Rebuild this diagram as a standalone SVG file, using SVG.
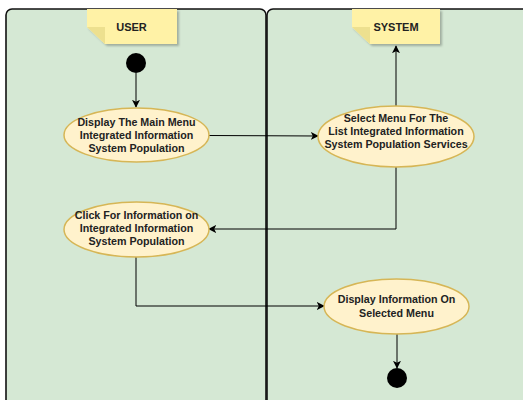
<svg xmlns="http://www.w3.org/2000/svg" width="523" height="400" viewBox="0 0 523 400">
<defs>
<marker id="arr" viewBox="0 0 10 10" refX="9" refY="5" markerWidth="8" markerHeight="8" markerUnits="userSpaceOnUse" orient="auto">
<path d="M0,0 L10,5 L0,10 L2.5,5 z" fill="#000"/>
</marker>
<filter id="sh" x="-10%" y="-10%" width="130%" height="140%">
<feDropShadow dx="2" dy="2" stdDeviation="0.8" flood-color="#000" flood-opacity="0.25"/>
</filter>
</defs>
<style>
.lane{fill:#d5e8d4;stroke:#111;stroke-width:1.6}
.act{fill:#fff2cc;stroke:#d6b656;stroke-width:1.5}
.note{fill:#fff2a6}
.fold{fill:#ede08f}
.t{font-family:"Liberation Sans",Arial,sans-serif;font-weight:bold;font-size:10.7px;fill:#222;text-anchor:middle;dominant-baseline:central}
.nt{font-family:"Liberation Sans",Arial,sans-serif;font-weight:bold;font-size:11px;fill:#222;text-anchor:middle;dominant-baseline:central}
.c{fill:none;stroke:#000;stroke-width:1}
</style>
<rect width="523" height="400" fill="#fff"/>
<g id="lane-user">
<rect class="lane" x="6" y="9" width="260" height="420" rx="6"/>
</g>
<g id="lane-system">
<rect class="lane" x="267" y="9" width="280" height="420" rx="6"/>
</g>
<g id="note-user">
<path class="note" filter="url(#sh)" d="M87,9 H177 V44 H105 L87,27 Z"/>
<path class="fold" d="M87,27 L105,27 L105,44 Z"/>
<text class="nt" x="131.5" y="27">USER</text>
</g>
<g id="note-system">
<path class="note" filter="url(#sh)" d="M352,9 H440 V44 H370 L352,27 Z"/>
<path class="fold" d="M352,27 L370,27 L370,44 Z"/>
<text class="nt" x="396" y="27">SYSTEM</text>
</g>
<g id="connectors">
<path class="c" d="M136,73 V107" marker-end="url(#arr)"/>
<path class="c" d="M209,135.5 L318,136" marker-end="url(#arr)"/>
<path class="c" d="M396,106 V46" marker-end="url(#arr)"/>
<path class="c" d="M396,167 V229 H209" marker-end="url(#arr)"/>
<path class="c" d="M136,257 V306 H324" marker-end="url(#arr)"/>
<path class="c" d="M397,334 V368" marker-end="url(#arr)"/>
</g>
<g id="start">
<circle cx="136" cy="63" r="10" fill="#000"/>
</g>
<g id="act-display-main">
<ellipse class="act" cx="136.5" cy="135" rx="72.5" ry="27"/>
<text class="t" x="136.5" y="122">Display The Main Menu</text>
<text class="t" x="136.5" y="135">Integrated Information</text>
<text class="t" x="136.5" y="148">System Population</text>
</g>
<g id="act-select-menu">
<ellipse class="act" cx="396" cy="136.5" rx="78" ry="30.5"/>
<text class="t" x="396" y="118">Select Menu For The</text>
<text class="t" x="396" y="131">List Integrated Information</text>
<text class="t" x="396" y="144">System Population  Services</text>
</g>
<g id="act-click-info">
<ellipse class="act" cx="136.5" cy="229.5" rx="72.5" ry="27.5"/>
<text class="t" x="136.5" y="215">Click For Information on</text>
<text class="t" x="136.5" y="228">Integrated Information</text>
<text class="t" x="136.5" y="241">System Population</text>
</g>
<g id="act-display-info">
<ellipse class="act" cx="396.5" cy="306.5" rx="72.5" ry="27.5"/>
<text class="t" x="396.5" y="299">Display Information On</text>
<text class="t" x="396.5" y="313">Selected Menu</text>
</g>
<g id="end">
<circle cx="397" cy="378" r="10" fill="#000"/>
</g>
</svg>
